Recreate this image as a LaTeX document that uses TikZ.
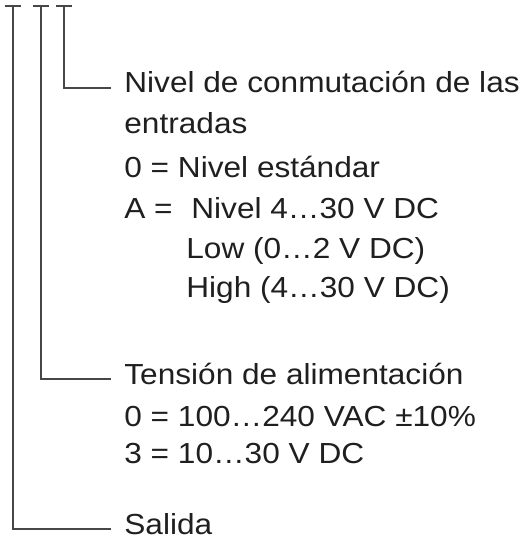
\documentclass[tikz,border=0pt]{standalone}
\usepackage{fontspec}
\setmainfont[FakeStretch=1.09]{Liberation Sans}

\begin{document}
\begin{tikzpicture}
  [x=0.5pt,y=-0.5pt,
   every node/.style={anchor=base west,inner sep=0pt,text=black!88,font=\fontsize{14.5}{20}\selectfont},
   bracket/.style={draw=black!72,line width=1pt}]

  \useasboundingbox (0,0) rectangle (531,537);

  \coordinate (top1) at (13,6);
  \coordinate (top2) at (41,6);
  \coordinate (top3) at (64,6);

  \node (nivel)   at (124,92.5)  {Nivel de conmutación de las};
  \node (entr)    at (124,133.3) {entradas};
  \node (niv0)    at (124,177.3) {0 = Nivel estándar};
  \node (nivA)    at (124,218.3) {A =};
  \node (nivAt)   at (191,218.3) {Nivel 4…30 V DC};
  \node (low)     at (186,258.3) {Low (0…2 V DC)};
  \node (high)    at (186,297.7) {High (4…30 V DC)};

  \node (tension) at (124,384.3) {Tensión de alimentación};
  \node (ten0)    at (124,426.7) {0 = 100…240 VAC ±10\%};
  \node (ten3)    at (124,463.3) {3 = 10…30 V DC};

  \node (salida)  at (124,534)   {Salida};

  \foreach \t/\h in {top1/salida,top2/tension,top3/nivel}
    \draw[bracket] ([xshift=-4pt]\t) -- ([xshift=4pt]\t)
      (\t) |- ([shift={(-6.5pt,2.5pt)}]\h.base west);

\end{tikzpicture}
\end{document}
